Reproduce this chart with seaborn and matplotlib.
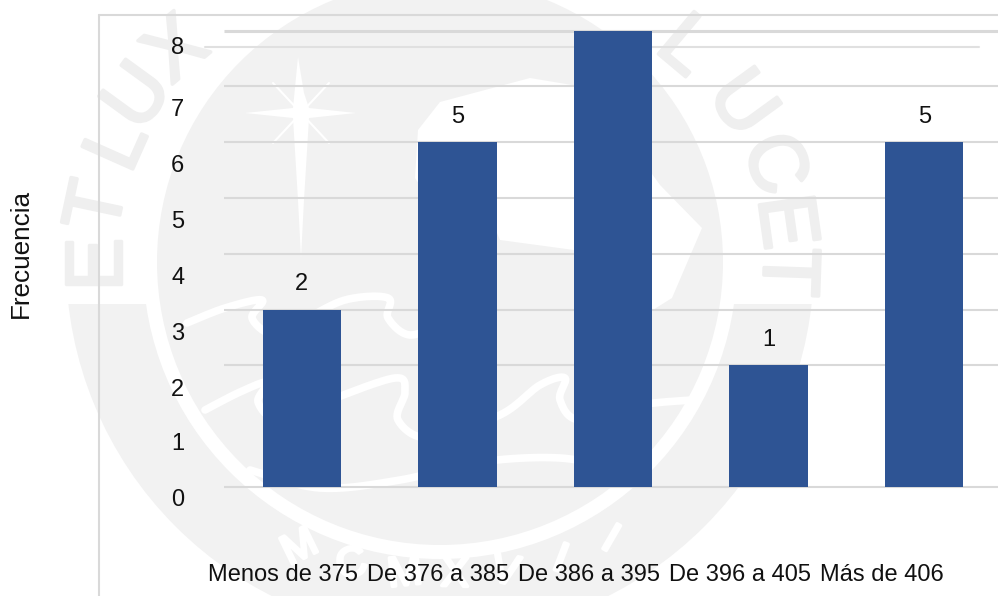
import numpy as np
import matplotlib
matplotlib.use("Agg")
import matplotlib.pyplot as plt
import matplotlib.patheffects as pe
from matplotlib.lines import Line2D
from matplotlib.patches import Circle, Rectangle, Polygon
import seaborn as sns

# Data
categories = ["Menos de 375", "De 376 a 385", "De 386 a 395", "De 396 a 405", "Más de 406"]
bar_heights = [3.18, 6.18, 8.18, 2.18, 6.18]
bar_labels = ["2", "5", "", "1", "5"]
y_tick_labels = ["0", "1", "2", "3", "4", "5", "6", "7", "8"]
grid_levels = [0, 2.18, 3.18, 4.18, 5.18, 6.18, 7.18]
top_grid_level = 8.18

# Layout, in pixels of the 998x596 picture
W, H = 998, 596
UNIT = 55.8
BASE = 487
AX_L, AX_R, AX_T, AX_B = 224, 1002, 15, 540
y_label_px = [498, 442, 387, 331, 275, 219, 163, 108, 46]
x_label_px = [283, 438, 589, 740, 882]
bar_label_px = [284, 117, 0, 340, 117]

GRAY = "#f2f2f2"
LINE = "#d9d9d9"
BLUE = "#2E5494"
INK = "#111111"

sns.set_theme(style="white")
plt.rcParams["font.family"] = ["Liberation Sans", "DejaVu Sans"]

fig = plt.figure(figsize=(W / 100, H / 100), dpi=100, facecolor="white")


def smooth(pts, n=14):
    p = np.array(pts, float)
    p = np.vstack([p[0], p, p[-1]])
    out = []
    for i in range(1, len(p) - 2):
        for t in np.linspace(0, 1, n, endpoint=False):
            a = 2 * p[i]
            b = p[i + 1] - p[i - 1]
            c = 2 * p[i - 1] - 5 * p[i] + 4 * p[i + 1] - p[i + 2]
            d = -p[i - 1] + 3 * p[i] - 3 * p[i + 1] + p[i + 2]
            out.append(0.5 * (a + b * t + c * t ** 2 + d * t ** 3))
    out.append(p[-2])
    return np.array(out)


# Background: watermark seal and outer frame
bg = fig.add_axes([0, 0, 1, 1], zorder=0)
bg.set_xlim(0, W)
bg.set_ylim(H, 0)
bg.axis("off")
CX, CY = 440, 262

ring = Circle((CX, CY), 374, fc=GRAY, ec="none", zorder=1)
bg.add_patch(ring)
ring.set_clip_path(Rectangle((0, 304), W, H, transform=bg.transData))
bg.add_patch(Circle((CX, CY), 297, fc="white", ec="none", zorder=2))
bg.add_patch(Circle((CX, CY), 283, fc=GRAY, ec="none", zorder=3))

# shield
shield = [(415, 178), (418, 130), (440, 102), (530, 78), (590, 88), (660, 185), (702, 228),
          (672, 298), (640, 318), (575, 318), (574, 250), (500, 240), (470, 170), (440, 215)]
bg.add_patch(Polygon(shield, closed=True, fc="white", ec="none", zorder=4))

# star
sx, sy = 301, 113
star = [(245, sy), (sx - 8, sy - 5), (sx - 3, 57 + 0), (sx + 3, sy - 20), (sx + 8, sy - 5), (356, sy),
        (sx + 8, sy + 5), (sx + 3, 200), (sx, 258), (sx - 3, 200), (sx - 8, sy + 5)]
bg.add_patch(Polygon(star, closed=True, fc="white", ec="none", zorder=5))
for dx, dy in [(28, 30), (-28, 30), (28, -30), (-28, -30)]:
    bg.plot([sx, sx + dx], [sy, sy + dy], color="white", lw=1.5, zorder=5)

# waves
waves = [
    [(187, 323), (225, 308), (262, 300), (252, 318), (272, 334), (300, 322), (345, 300), (388, 298),
     (388, 318), (410, 335), (445, 322)],
    [(205, 410), (240, 392), (268, 382), (258, 402), (280, 420), (330, 400), (395, 378), (405, 392),
     (398, 420), (430, 438), (500, 415), (540, 385), (565, 378), (560, 400), (580, 420), (640, 405), (692, 400)],
    [(250, 470), (320, 488), (400, 480), (480, 462), (560, 458), (620, 470)],
]
for w in waves:
    s = smooth(w)
    bg.plot(s[:, 0], s[:, 1], color="white", lw=5.5, solid_capstyle="round", zorder=5)

# ring letters
top_letters = [("E", 100, 264, 90), ("T", 100, 207, 78), ("L", 120, 146, 66), ("U", 140, 98, 54),
               ("X", 178, 52, 40), ("L", 684, 48, -40), ("U", 740, 105, -54),
               ("C", 772, 165, -68), ("E", 783, 222, -82), ("T", 785, 272, -92)]
for ch, x, y, rot in top_letters:
    bg.text(x, y, ch, color="#efefef", fontsize=58, rotation=rot, ha="center", va="center", zorder=2.5,
            path_effects=[pe.withStroke(linewidth=2.5, foreground="#efefef")])

bottom_letters = [("M", 300, 548, 26), ("C", 352, 565, 15), ("M", 405, 574, 6), ("X", 455, 575, -2),
                  ("V", 505, 572, -12), ("I", 560, 560, -21), ("I", 610, 540, -30)]
for ch, x, y, rot in bottom_letters:
    bg.text(x, y, ch, color="white", fontsize=30, rotation=rot, ha="center", va="center", zorder=5,
            path_effects=[pe.withStroke(linewidth=2.5, foreground="white")])

# frame
bg.add_line(Line2D([99, 99], [15, H], color=LINE, lw=1.5, zorder=6))
bg.add_line(Line2D([99, W], [15, 15], color=LINE, lw=1.5, zorder=6))
bg.add_line(Line2D([205, 979], [47, 47], color="#e0e0e0", lw=1.5, zorder=6))

# Main chart
ax = fig.add_axes([AX_L / W, (H - AX_B) / H, (AX_R - AX_L) / W, (AX_B - AX_T) / H], zorder=1)
ax.patch.set_alpha(0)
sns.barplot(x=categories, y=bar_heights, color=BLUE, saturation=1, width=0.505, linewidth=0, ax=ax, zorder=3)
ax.set_xlim(-0.5, 4.5)
ax.set_ylim((BASE - AX_B) / UNIT, (BASE - AX_T) / UNIT)

ax.hlines(grid_levels, -0.5, 4.5, color=LINE, lw=1.5, zorder=1)
ax.hlines([top_grid_level], -0.5, 4.5, color=LINE, lw=2.2, zorder=1)

ax.set_yticks([(BASE - p) / UNIT for p in y_label_px], y_tick_labels)
ax.set_xticks([(p - AX_L) / ((AX_R - AX_L) / 5) - 0.5 for p in x_label_px], categories)
ax.tick_params(axis="y", length=0, pad=28.5, labelsize=17, labelcolor=INK)
ax.tick_params(axis="x", length=0, pad=17, labelsize=17, labelcolor=INK)

ax.set_xlabel("")
ax.set_ylabel("Frecuencia", fontsize=18.8, color=INK, va="center")
ax.yaxis.set_label_coords((21 - AX_L) / (AX_R - AX_L), (AX_B - 253) / (AX_B - AX_T))

for i, (lab, py) in enumerate(zip(bar_labels, bar_label_px)):
    if lab:
        ax.text(i, (BASE - py) / UNIT, lab, ha="center", va="center", fontsize=17, color=INK, zorder=4)

sns.despine(ax=ax, left=True, bottom=True)
fig.savefig("out.png", dpi=100, facecolor="white")
